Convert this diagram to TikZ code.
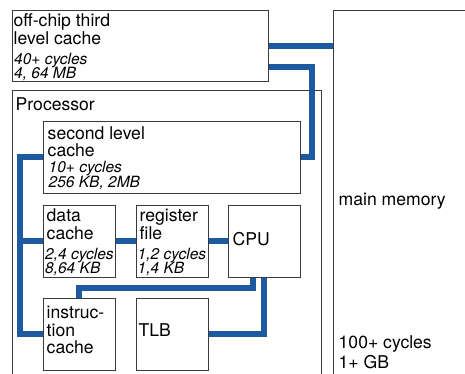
\documentclass[tikz,border=0pt]{standalone}
\usepackage{fontspec}
\setmainfont{TeX Gyre Heros}
\usetikzlibrary{calc}
\definecolor{busblue}{HTML}{1E5AA0}
\definecolor{edge}{HTML}{3A3A3A}
\tikzset{
  box/.style={draw=edge, line width=0.9pt, fill=none, inner sep=0pt, anchor=north west},
  bus/.style={draw=busblue, line width=6pt},
  lbl/.style={inner sep=0pt, anchor=base west, font=\fontsize{17.6}{20}\selectfont},
  sub/.style={inner sep=0pt, anchor=base west, font=\fontsize{15.5}{17}\selectfont\itshape},
}
\begin{document}
\begin{tikzpicture}[x=1pt, y=-1pt]
\useasboundingbox (0,0) rectangle (465,373);
\clip (0,0) rectangle (465,373);

% memory hierarchy blocks
\node[box, minimum width=256pt, minimum height=71pt] (l3) at (12,10) {};
\node[box, minimum width=220pt, minimum height=420pt] (mem) at (333,10) {};
\node[box, minimum width=309pt, minimum height=330pt] (proc) at (12,90) {};
\node[box, minimum width=257pt, minimum height=72pt] (l2) at (43,121) {};
\node[box, minimum width=72pt, minimum height=72pt] (dc) at (43,205) {};
\node[box, minimum width=72pt, minimum height=72pt] (rf) at (136,205) {};
\node[box, minimum width=72pt, minimum height=72pt] (cpu) at (228,205) {};
\node[box, minimum width=72pt, minimum height=72pt] (ic) at (43,298) {};
\node[box, minimum width=72pt, minimum height=72pt] (tlb) at (136,298) {};

% bend points of the buses
\coordinate (rise) at (311.5,66.5);
\coordinate (lbus) at (20,0);
\coordinate (ibus) at (0,288);

% buses
\draw[bus] (l3.east) -- (l3.east -| mem.west);
\draw[bus] (l3.east |- rise) -- (rise) |- (l2.east);
\draw[bus] (l2.west) -- (l2.west -| lbus) |- (ic.west);
\draw[bus] (dc.west -| lbus) -- (dc.west);
\draw[bus] (dc.east) -- (rf.west);
\draw[bus] (rf.east) -- (cpu.west);
\draw[bus] ($(cpu.south)+(-11pt,0pt)$) |- (ic.north |- ibus) -- (ic.north);
\draw[bus] (cpu.south) |- (tlb.east);

% redraw outlines over the bus ends
\foreach \n in {l3,mem,l2,dc,rf,cpu,ic,tlb}{
  \draw[draw=edge, line width=0.9pt] (\n.north west) rectangle (\n.south east);
}

% labels
\node[lbl] (t3a) at (13.5,26.7) {off-chip third};
\node[lbl] (t3b) at (13.5,44.3) {level cache};
\node[sub] (t3c) at (14,64) {40+ cycles};
\node[sub] (t3d) at (14,78.3) {4, 64 MB};

\node[lbl] (tp) at (15.5,110) {Processor};

\node[lbl] (t2a) at (47.5,139.3) {second level};
\node[lbl] (t2b) at (47.5,156) {cache};
\node[sub] (t2c) at (48.5,172) {10+ cycles};
\node[sub] (t2d) at (48.5,187.3) {256 KB, 2MB};

\node[lbl] (tda) at (46.5,221.7) {data};
\node[lbl] (tdb) at (46.5,239.3) {cache};
\node[sub] (tdc) at (45,259) {2,4 cycles};
\node[sub] (tdd) at (45,273.3) {8,64 KB};

\node[lbl] (tra) at (139.5,221.7) {register};
\node[lbl] (trb) at (139.5,239.3) {file};
\node[sub] (trc) at (137.5,259) {1,2 cycles};
\node[sub] (trd) at (137.5,273.3) {1,4 KB};

\node[lbl] (tc) at (232.5,245) {CPU};

\node[lbl] (tia) at (46.5,318.3) {instruc-};
\node[lbl] (tib) at (46.5,336) {tion};
\node[lbl] (tic) at (46.5,353.3) {cache};

\node[lbl] (tt) at (138.5,336.7) {TLB};

\node[lbl] (tma) at (338.5,205) {main memory};
\node[lbl] (tmb) at (338.5,348.3) {100+ cycles};
\node[lbl] (tmc) at (338.5,368.3) {1+ GB};
\end{tikzpicture}
\end{document}
